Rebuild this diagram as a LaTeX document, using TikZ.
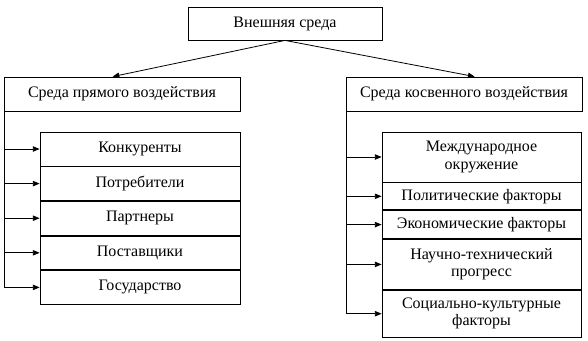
\documentclass[tikz,border=0pt]{standalone}
\usepackage{fontspec}
\setmainfont{Liberation Serif}
\usetikzlibrary{arrows.meta,positioning}
\tikzset{
  >={Triangle[length=5pt,width=4pt]},
  box/.style={draw,line width=0.6pt,inner sep=1pt,align=center,font=\fontsize{12}{12.8}\selectfont},
  hbox/.style={box,minimum width=177pt,minimum height=25.5pt},
  lbox/.style={box,minimum width=150pt,minimum height=25.35pt},
  rbox/.style={box,minimum width=149.25pt},
  arr/.style={->,line width=0.6pt},
  trunk/.style={line width=0.6pt},
}

\begin{document}
\begin{tikzpicture}[x=0.75pt,y=-0.75pt]
\useasboundingbox (0,0) rectangle (588,340);
\node[box,minimum width=145.5pt,minimum height=24.75pt] (ext) at (285,23.5) {Внешняя среда};
\node[hbox] (dir) at (122,94) {Среда прямого воздействия};
\node[hbox] (ind) at (464,94) {Среда косвенного воздействия};
\draw[arr] (ext.south) -- ([xshift=-7pt]dir.north);
\draw[arr] (ext.south) -- ([xshift=8pt]ind.north);
% direct environment
\node[lbox] (comp) at (140,149) {Конкуренты};
\node[lbox,below=0pt of comp] (cons) {Потребители};
\node[lbox,below=0pt of cons] (part) {Партнеры};
\node[lbox,below=0pt of part] (supp) {Поставщики};
\node[lbox,below=0pt of supp] (gov) {Государство};
\coordinate (dl) at (4,0);
\draw[trunk] (dir.south -| dl) -- (gov.west -| dl);
\foreach \n in {comp,cons,part,supp,gov}
  \draw[arr] (\n.west -| dl) -- (\n.west);
% indirect environment
\node[rbox,minimum height=37.5pt] (intl) at (481.5,157) {Международное\\окружение};
\node[rbox,minimum height=20.25pt,below=0pt of intl] (pol) {Политические факторы};
\node[rbox,minimum height=21pt,below=0pt of pol] (econ) {Экономические факторы};
\node[rbox,minimum height=37.5pt,below=0pt of econ] (sci) {Научно-технический\\прогресс};
\node[rbox,minimum height=35.25pt,below=0pt of sci] (soc) {Социально-культурные\\факторы};
\coordinate (il) at (346,0);
\draw[trunk] (ind.south -| il) -- (soc.west -| il);
\foreach \n in {intl,pol,econ,sci,soc}
  \draw[arr] (\n.west -| il) -- (\n.west);
\end{tikzpicture}
\end{document}
